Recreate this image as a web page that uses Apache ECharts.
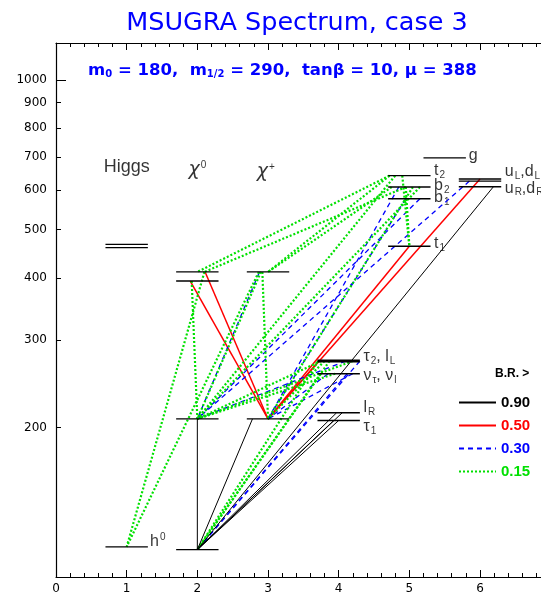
<!DOCTYPE html>
<html><head><meta charset="utf-8">
<script src="https://cdn.jsdelivr.net/npm/echarts@6/dist/echarts.min.js"></script>
<style>html,body{margin:0;padding:0;background:#fff}#c{width:541px;height:596px}</style>
</head><body><div id="c"></div>
<script>
// ---- axis ticks ----
const yTickValues = [200, 300, 400, 500, 600, 700, 800, 900, 1000];

// ---- mass levels: [x start, x end, mass] ----
const levelX0 = [0.7, 0.7, 0.7, 1.7, 1.7, 1.7, 1.7, 2.7, 2.7, 3.7, 3.7, 3.7, 3.7, 3.7, 4.7, 4.7, 4.7, 4.7, 5.2, 5.7, 5.7, 5.7];
const levelX1 = [1.3, 1.3, 1.3, 2.3, 2.3, 2.3, 2.3, 3.3, 3.3, 4.3, 4.3, 4.3, 4.3, 4.3, 5.3, 5.3, 5.3, 5.3, 5.8, 6.3, 6.3, 6.3];
const levelMass = [115, 467, 460, 113.5, 208, 394, 411, 208, 411, 273, 271, 256.5, 214, 206.5, 642, 609, 577, 463, 697, 632, 626, 610];

// ---- decay lines [x1, m1, x2, m2] by branching ratio class ----
const decays090 = [
  [2.0, 208, 2.0, 113.5], [2.78, 208, 2.0, 113.5], [6.19, 610, 2.0, 113.5],
  [3.97, 214, 2.0, 113.5], [4.05, 214, 2.0, 113.5], [3.93, 206.5, 2.0, 113.5], [4.0, 206.5, 2.0, 113.5]
];
const decays050 = [
  [1.9, 394, 3.0, 208], [2.11, 411, 3.0, 208], [5.0, 463, 3.0, 208], [6.0, 632, 3.0, 208], [3.72, 272, 3.0, 208]
];
const decays030 = [
  [2.88, 411, 2.0, 208], [5.15, 577, 2.0, 208], [5.85, 626, 2.0, 208], [4.95, 577, 3.0, 208],
  [4.12, 256.5, 2.0, 113.5], [4.3, 272, 2.0, 113.5], [3.85, 256.5, 3.0, 208], [4.1, 272, 2.0, 208],
  [4.2, 256.5, 3.0, 208], [4.85, 609, 3.0, 208]
];
const decays015 = [
  [2.1, 411, 1.0, 115], [2.87, 411, 1.0, 115], [1.92, 394, 2.0, 208], [2.9, 411, 2.0, 208],
  [2.92, 411, 3.0, 208], [4.72, 642, 2.0, 411], [4.95, 609, 2.1, 411], [4.72, 642, 3.0, 411],
  [4.75, 609, 3.0, 411], [4.9, 642, 5.0, 463], [4.95, 609, 5.0, 463], [4.8, 642, 2.0, 208],
  [5.05, 609, 3.0, 208], [5.15, 609, 2.0, 208], [3.75, 272, 2.0, 208], [3.95, 256.5, 2.0, 208],
  [4.2, 272, 2.0, 208], [3.8, 272, 3.0, 208], [3.71, 272, 2.0, 113.5], [3.87, 272, 2.0, 113.5],
  [3.75, 256.5, 2.0, 113.5]
];

// ---- level labels: text, x, mass (anchor), alignment ----
const labelTexts = ['Higgs', '{g|χ}{sup|0}', '{g|χ}{sup|+}', 'h{sup|0}', 'τ{sub|2}, l{sub|L}', 'ν{sub|τ}, ν{sub|l}', 'l{sub|R}', 'τ{sub|1}',
  't{sub|2}', 'b{sub|2}', 'b{sub|1}', 't{sub|1}', 'g', 'u{sub|L},d{sub|L}', 'u{sub|R},d{sub|R}'];
const labelX = [1.0, 2.0, 2.97, 1.33, 4.35, 4.35, 4.35, 4.35, 5.35, 5.35, 5.35, 5.35, 5.84, 6.35, 6.35];
const labelMass = [668, 659, 653, 118, 277, 254, 219, 200.5, 656, 612, 579, 468, 703, 653, 606];
const labelAlign = ['center', 'center', 'center', 'left', 'left', 'left', 'left', 'left', 'left', 'left', 'left', 'left', 'left', 'left', 'left'];

const brNames = ['0.90', '0.50', '0.30', '0.15'];
const brColors = ['#000000', '#ff0000', '#0000ff', '#00e000'];

const chart = echarts.init(document.getElementById('c'), null, {renderer: 'canvas'});

const styles = [
  {color: brColors[0], width: 1, type: 'solid'},
  {color: brColors[1], width: 1.5, type: 'solid'},
  {color: brColors[2], width: 1.3, type: [5, 4]},
  {color: brColors[3], width: 2.2, type: [2, 2]}
];
const series = [];
levelMass.forEach((m, i) => {
  series.push({type: 'line', name: 'level', data: [[levelX0[i], m], [levelX1[i], m]], symbol: 'none', silent: true,
    animation: false, z: 5, lineStyle: {color: '#000', width: 1.4}, itemStyle: {color: '#000'}});
});
[decays090, decays050, decays030, decays015].forEach((arr, k) => {
  arr.forEach(d => {
    series.push({type: 'line', name: brNames[k], data: [[d[0], d[1]], [d[2], d[3]]], symbol: 'none', silent: true,
      animation: false, z: 3 + (k === 0 ? 1 : 0), lineStyle: styles[k], itemStyle: {color: brColors[k]}});
  });
});
series.push({
  type: 'scatter', name: 'labels', symbolSize: 0, silent: true, animation: false,
  data: labelTexts.map((t, i) => ({
    value: [labelX[i], labelMass[i]],
    label: {show: true, formatter: t, position: [0, 0], align: labelAlign[i], verticalAlign: 'middle',
      fontSize: i < 3 ? 18 : 16}
  })),
  label: {
    show: true, color: '#000', fontFamily: 'Liberation Sans',
    rich: {
      g: {fontSize: 19, fontFamily: 'DejaVu Sans', fontStyle: 'italic', color: '#000'},
      sup: {fontSize: 10, padding: [0, 0, 9, 1], color: '#000', fontFamily: 'Liberation Sans'},
      sub: {fontSize: 10, padding: [8, 0, 0, 1], color: '#000', fontFamily: 'Liberation Sans'}
    }
  }
});

const axisCommon = {
  axisLine: {show: true, lineStyle: {color: '#000', width: 1.2}},
  splitLine: {show: false}
};
const xMax = 6.863;

chart.setOption({
  backgroundColor: '#fff',
  animation: false,
  title: [
    {text: 'MSUGRA Spectrum, case 3', left: 292, textAlign: 'center', top: 5,
      textStyle: {color: '#0000ff', fontSize: 25.5, fontWeight: 'normal', fontFamily: 'DejaVu Sans'}},
    {text: 'm{s|0} = 180,  m{s|1/2} = 290,  tanβ = 10, μ = 388', left: 88, top: 62, padding: 0,
      textStyle: {color: '#0000ff', fontSize: 16.5, fontWeight: 'bold', fontFamily: 'DejaVu Sans',
        rich: {s: {fontSize: 10, fontWeight: 'bold', color: '#0000ff', fontFamily: 'DejaVu Sans', padding: [7, 0, 0, 0]}}}},
    {text: 'B.R. >', left: 495, top: 368, padding: 0, textStyle: {color: '#000', fontSize: 12, fontWeight: 'bold', fontFamily: 'Liberation Sans'}}
  ],
  legend: {
    data: brNames.map((n, i) => ({name: n, textStyle: {color: brColors[i]}})),
    orient: 'vertical', left: 458, top: 395, padding: 0, itemWidth: 37, itemHeight: 14, itemGap: 8,
    textStyle: {fontSize: 15, fontWeight: 'bold', fontFamily: 'Liberation Sans'},
    itemStyle: {opacity: 0}, selectedMode: false
  },
  grid: {left: 56, right: 0, top: 43, bottom: 19, containLabel: false},
  xAxis: [
    Object.assign({type: 'value', min: 0, max: xMax, interval: 1, position: 'bottom',
      axisTick: {show: true, inside: true, length: 7, lineStyle: {color: '#000'}},
      minorTick: {show: true, splitNumber: 5, length: 4, lineStyle: {color: '#000'}},
      axisLabel: {color: '#000', fontSize: 12, fontFamily: 'DejaVu Sans', margin: 6, showMaxLabel: false,
        formatter: v => (Math.abs(v - Math.round(v)) < 1e-6 ? String(Math.round(v)) : '')}}, axisCommon),
    Object.assign({type: 'value', min: 0, max: xMax, interval: 1, position: 'top',
      axisTick: {show: true, inside: true, length: 7, lineStyle: {color: '#000'}},
      minorTick: {show: true, splitNumber: 5, length: 4, lineStyle: {color: '#000'}},
      axisLabel: {show: false}}, axisCommon)
  ],
  yAxis: [
    Object.assign({type: 'log', logBase: 10, min: 100, max: 1187, position: 'left',
      axisTick: {show: true, inside: true, length: 5, customValues: yTickValues, lineStyle: {color: '#000'}},
      axisLabel: {color: '#000', fontSize: 12, fontFamily: 'DejaVu Sans', margin: 9, customValues: yTickValues,
        formatter: v => String(Math.round(v))}}, axisCommon),
    {type: 'log', logBase: 10, min: 100, max: 1187, position: 'left', axisLine: {show: false},
      axisTick: {show: true, inside: true, length: 10, customValues: [1000], lineStyle: {color: '#000'}},
      axisLabel: {show: false}, splitLine: {show: false}}
  ],
  series: series
});
</script></body></html>
